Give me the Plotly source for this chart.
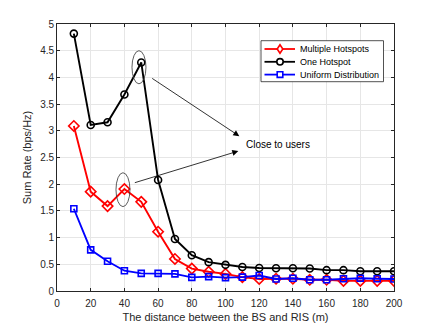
import plotly.graph_objects as go

x = [10, 20, 30, 40, 50, 60, 70, 80, 90, 100, 110, 120, 130, 140, 150, 160, 170, 180, 190, 200]
multiple_hotspots = [3.09, 1.86, 1.59, 1.91, 1.67, 1.11, 0.60, 0.42, 0.36, 0.32, 0.26, 0.225, 0.23, 0.23, 0.21, 0.21, 0.19, 0.19, 0.19, 0.19]
one_hotspot = [4.82, 3.11, 3.16, 3.68, 4.28, 2.08, 0.975, 0.67, 0.54, 0.49, 0.45, 0.43, 0.425, 0.425, 0.42, 0.39, 0.39, 0.37, 0.37, 0.37]
uniform = [1.54, 0.77, 0.556, 0.38, 0.33, 0.33, 0.32, 0.256, 0.27, 0.25, 0.26, 0.29, 0.225, 0.24, 0.21, 0.21, 0.23, 0.24, 0.23, 0.225]
series_names = ["Multiple Hotspots", "One Hotspot", "Uniform Distribution"]
series_colors = ["#ff0000", "#000000", "#0000ff"]

x_ticks = [0, 20, 40, 60, 80, 100, 120, 140, 160, 180, 200]
y_ticks = [0, 0.5, 1, 1.5, 2, 2.5, 3, 3.5, 4, 4.5, 5]
y_tick_text = ["0", "0.5", "1", "1.5", "2", "2.5", "3", "3.5", "4", "4.5", "5"]

FONT = "Liberation Sans, Arial, sans-serif"
W, H = 436, 327
ML, MR, MT, MB = 57, 42, 24, 36
PW, PH = W - ML - MR, H - MT - MB


def px(xp):
    return (xp - ML) / PW


def py(yp):
    return (H - MB - yp) / PH


fig = go.Figure()
fig.add_trace(go.Scatter(x=x, y=multiple_hotspots, mode="lines+markers", name=series_names[0],
                         line=dict(color=series_colors[0], width=1.9),
                         marker=dict(symbol="diamond-open", size=8, color=series_colors[0], line=dict(width=1.6))))
fig.add_trace(go.Scatter(x=x, y=one_hotspot, mode="lines+markers", name=series_names[1],
                         line=dict(color=series_colors[1], width=1.9),
                         marker=dict(symbol="circle-open", size=7, color=series_colors[1], line=dict(width=1.6))))
fig.add_trace(go.Scatter(x=x, y=uniform, mode="lines+markers", name=series_names[2],
                         line=dict(color=series_colors[2], width=1.9),
                         marker=dict(symbol="square-open", size=6, color=series_colors[2], line=dict(width=1.6))))

# ellipses
fig.add_shape(type="circle", xref="x", yref="y", x0=44.5, x1=52.8, y0=3.88, y1=4.5,
              line=dict(color="#333333", width=0.8))
fig.add_shape(type="circle", xref="x", yref="y", x0=35, x1=43.3, y0=1.58, y1=2.215,
              line=dict(color="#333333", width=0.8))

# arrows
fig.add_annotation(x=108.2, y=2.90, ax=55.6, ay=4.0, xref="x", yref="y", axref="x", ayref="y",
                   text="", showarrow=True, arrowhead=2, arrowsize=1.5, arrowwidth=0.8, arrowcolor="#000000")
fig.add_annotation(x=107.6, y=2.62, ax=45.3, ay=2.02, xref="x", yref="y", axref="x", ayref="y",
                   text="", showarrow=True, arrowhead=2, arrowsize=1.5, arrowwidth=0.8, arrowcolor="#000000")
fig.add_annotation(x=111, y=2.74, xref="x", yref="y", text="Close to users", showarrow=False,
                   xanchor="left", yanchor="middle", font=dict(family=FONT, size=10, color="#000000"))

# manual legend box
fig.add_shape(type="rect", xref="paper", yref="paper", x0=px(261), x1=px(383.5), y0=py(81.7), y1=py(40.7),
              fillcolor="white", line=dict(color="#262626", width=0.8), layer="above")
row_y = [49, 61.8, 74.6]
symbols = ["diamond", "circle", "square"]
for name, col, ry, sym in zip(series_names, series_colors, row_y, symbols):
    fig.add_shape(type="line", xref="paper", yref="paper", x0=px(264.5), x1=px(295), y0=py(ry), y1=py(ry),
                  line=dict(color=col, width=1.8), layer="above")
    cx = px(280)
    if sym == "circle":
        fig.add_shape(type="circle", xref="paper", yref="paper", xsizemode="pixel", ysizemode="pixel",
                      xanchor=cx, yanchor=py(ry), x0=-3.2, x1=3.2, y0=-3.2, y1=3.2,
                      fillcolor="white", line=dict(color=col, width=1.6), layer="above")
    elif sym == "square":
        fig.add_shape(type="rect", xref="paper", yref="paper", xsizemode="pixel", ysizemode="pixel",
                      xanchor=cx, yanchor=py(ry), x0=-2.8, x1=2.8, y0=-2.8, y1=2.8,
                      fillcolor="white", line=dict(color=col, width=1.6), layer="above")
    else:
        fig.add_shape(type="path", xref="paper", yref="paper", xsizemode="pixel", ysizemode="pixel",
                      xanchor=cx, yanchor=py(ry), path="M 0 4.2 L 2.8 0 L 0 -4.2 L -2.8 0 Z",
                      fillcolor="white", line=dict(color=col, width=1.6), layer="above")
    fig.add_annotation(x=px(297.5), y=py(ry), xref="paper", yref="paper", text=name, showarrow=False,
                       xanchor="left", yanchor="middle", font=dict(family=FONT, size=9, color="#000000"))

fig.update_layout(
    width=W, height=H,
    margin=dict(l=ML, r=MR, t=MT, b=MB, autoexpand=False),
    paper_bgcolor="white", plot_bgcolor="white",
    font=dict(family=FONT, size=10, color="#262626"),
    showlegend=False,
    xaxis=dict(range=[0, 200], tickvals=x_ticks, ticks="inside", ticklen=3, tickcolor="#262626",
               showgrid=True, gridcolor="#e6e6e6", gridwidth=0.8,
               showline=True, linecolor="#262626", linewidth=0.8, mirror="ticks",
               zeroline=False, automargin=False, ticklabelstandoff=3,
               title=dict(text="The distance between the BS and RIS (m)", font=dict(size=11, color="#262626"), standoff=5),
               tickfont=dict(size=10, color="#262626")),
    yaxis=dict(range=[0, 5], tickvals=y_ticks, ticktext=y_tick_text, ticks="inside", ticklen=3, tickcolor="#262626",
               showgrid=True, gridcolor="#e6e6e6", gridwidth=0.8,
               showline=True, linecolor="#262626", linewidth=0.8, mirror="ticks",
               zeroline=False, automargin=False,
               title=dict(text="Sum Rate (bps/Hz)", font=dict(size=11, color="#262626"), standoff=6),
               tickfont=dict(size=10, color="#262626")),
)

fig.write_html("out.html", config={"displayModeBar": False},
               post_script="document.body.style.margin='0px';document.body.style.padding='0px';")
